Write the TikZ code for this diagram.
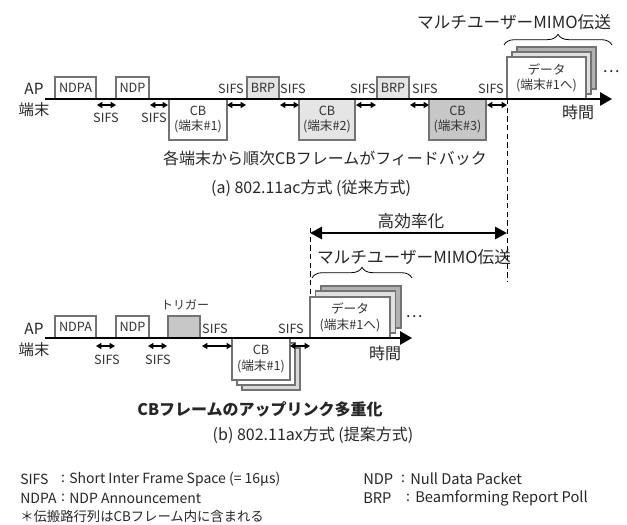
\documentclass[tikz,border=0pt]{standalone}
\usepackage{fontspec}
\setmainfont{Noto Sans CJK JP}
\usetikzlibrary{arrows.meta,decorations.pathreplacing}
\begin{document}
\begin{tikzpicture}[x=0.75pt,y=-0.75pt,
  sz/.style 2 args={minimum width=#1*0.75pt, minimum height=#2*0.75pt},
  box/.style={draw=black!55, line width=1pt, fill=white, inner sep=0pt, outer sep=0pt,
    font=\fontsize{9.5}{11.5}\selectfont, text=black!80, align=center},
  lbl/.style={font=\fontsize{9.5}{11.5}\selectfont, text=black!80, inner sep=0pt},
  mid/.style={font=\fontsize{11.5}{13}\selectfont, text=black!85, inner sep=0pt},
  big/.style={font=\fontsize{12}{14}\selectfont, text=black!85, inner sep=0pt},
  bigger/.style={font=\fontsize{12.5}{14}\selectfont, text=black!85, inner sep=0pt},
  leg/.style={font=\fontsize{10.5}{12}\selectfont, text=black!85, inner sep=0pt, anchor=west},
  legr/.style={font=\fontsize{11}{12}\selectfont, text=black!85, inner sep=0pt, anchor=west},
  colon/.style={font=\fontsize{10.5}{12}\selectfont, text=black!85, inner sep=0pt},
  sifsarr/.style={{Triangle[length=4pt,width=4.5pt]}-{Triangle[length=4pt,width=4.5pt]}, line width=0.9pt},
  timeline/.style={line width=1.4pt, -{Triangle[length=9pt,width=10pt]}},
  dashl/.style={dash pattern=on 4pt off 2.5pt, line width=0.7pt},
  brc/.style={decorate, decoration={brace, amplitude=8pt}, line width=0.6pt},
  effarr/.style={line width=2pt, {Triangle[length=9pt,width=9pt]}-{Triangle[length=9pt,width=9pt]}}
]
\useasboundingbox (0,0) rectangle (627,524);

% ================= (a) =================
\node[mid] (apA) at (34,89) {AP};
\node[mid] (staA) at (34,110) {端末};

\node[box, sz={41}{22}] (ndpaA) at (75.5,88) {NDPA};
\node[box, sz={33}{22}] (ndpA) at (132.5,88) {NDP};
\node[box, sz={58}{41}] (cb1A) at (198,119.5) {CB\\(端末\#1)};
\node[box, sz={32}{22}, fill=black!10] (brp1) at (263,88) {BRP};
\node[box, sz={56}{41}, fill=black!10] (cb2A) at (327,119.5) {CB\\(端末\#2)};
\node[box, sz={32}{22}, fill=black!10] (brp2) at (393,88) {BRP};
\node[box, sz={57}{41}, fill=black!22] (cb3A) at (457.5,119.5) {CB\\(端末\#3)};

% data stack (a)
\node[box, sz={79}{42}, fill=black!30] (datA3) at (556.5,68) {};
\node[box, sz={79}{42}, fill=black!12] (datA2) at (551.5,73) {};
\node[box, sz={79}{42}] (datA1) at (546.5,78) {データ\\(端末\#1へ)};
\node[big] (dotsA) at (611,72) {…};

% timeline (a)
\coordinate (tlAs) at (45,99);
\coordinate (tlAe) at (612,99);
\draw[timeline] (tlAs) -- (tlAe);
\node[big] (timeA) at (578,112) {時間};

% SIFS arrows (a)
\coordinate (a1s) at (97,105);  \coordinate (a1e) at (116,105);
\coordinate (a2s) at (150,105); \coordinate (a2e) at (168,105);
\coordinate (a3s) at (227,105); \coordinate (a3e) at (246,105);
\coordinate (a4s) at (280,105); \coordinate (a4e) at (299,105);
\coordinate (a5s) at (356,105); \coordinate (a5e) at (376,105);
\coordinate (a6s) at (410,105); \coordinate (a6e) at (429,105);
\coordinate (a7s) at (487,105); \coordinate (a7e) at (507,105);
\foreach \i in {1,...,7} {\draw[sifsarr] (a\i s) -- (a\i e);}

\node[lbl] (sA1) at (106,118) {SIFS};
\node[lbl] (sA2) at (154,118) {SIFS};
\node[lbl] (sA3) at (231,89) {SIFS};
\node[lbl] (sA4) at (293,89) {SIFS};
\node[lbl] (sA5) at (363,89) {SIFS};
\node[lbl] (sA6) at (425,89) {SIFS};
\node[lbl] (sA7) at (491,89) {SIFS};

% MU-MIMO brace (a)
\coordinate (brAs) at (504,45);
\coordinate (brAe) at (612,45);
\draw[brc] (brAs) -- (brAe);
\node[bigger] (mimoA) at (514,22) {マルチユーザーMIMO伝送};

\node[big] (fbA) at (325,158) {各端末から順次CBフレームがフィードバック};
\node[big] (capA) at (311,188) {(a) 802.11ac方式 (従来方式)};

% dashed line right
\coordinate (dRt) at (507,99);
\coordinate (dRb) at (507,282);
\draw[dashl] (dRt) -- (dRb);

% ================= (b) =================
\coordinate (dLt) at (310,228);
\coordinate (dLb) at (310,297);
\draw[dashl] (dLt) -- (dLb);

\coordinate (effL) at (310,233);
\coordinate (effR) at (507,233);
\draw[effarr] (effL) -- (effR);
\node[bigger] (eff) at (411,221) {高効率化};

\node[bigger] (mimoB) at (414,257) {マルチユーザーMIMO伝送};
\coordinate (brBs) at (312,278);
\coordinate (brBe) at (412,278);
\draw[brc] (brBs) -- (brBe);

\node[mid] (apB) at (34,329) {AP};
\node[mid] (staB) at (34,350) {端末};

\node[box, sz={41}{22}] (ndpaB) at (75.5,327) {NDPA};
\node[box, sz={33}{22}] (ndpB) at (132.5,327) {NDP};
\node[box, sz={32}{22}, fill=black!22] (trig) at (184,327) {};
\node[lbl, font=\fontsize{9}{11}\selectfont] (trigL) at (185,305) {トリガー};

% CB stack (b)
\node[box, sz={58}{42}, fill=black!15] (cbB3) at (271,369) {};
\node[box, sz={58}{42}] (cbB2) at (266,364) {};
\node[box, sz={58}{42}] (cbB1) at (261,359) {CB\\(端末\#1)};

% data stack (b)
\node[box, sz={80}{42}, fill=black!30] (datB3) at (361,307) {};
\node[box, sz={80}{42}, fill=black!12] (datB2) at (355.5,312) {};
\node[box, sz={80}{41}] (datB1) at (350,317.5) {データ\\(端末\#1へ)};
\node[big] (dotsB) at (414,317) {…};

\coordinate (tlBs) at (45,338);
\coordinate (tlBe) at (412,338);
\draw[timeline] (tlBs) -- (tlBe);
\node[big] (timeB) at (385,353) {時間};

\coordinate (b1s) at (96,346);  \coordinate (b1e) at (115,346);
\coordinate (b2s) at (148,346); \coordinate (b2e) at (167,346);
\coordinate (b3s) at (202,346); \coordinate (b3e) at (232,346);
\coordinate (b4s) at (290,346); \coordinate (b4e) at (310,346);
\foreach \i in {1,...,4} {\draw[sifsarr] (b\i s) -- (b\i e);}

\node[lbl] (sB1) at (107,360) {SIFS};
\node[lbl] (sB2) at (158,360) {SIFS};
\node[lbl] (sB3) at (215,329) {SIFS};
\node[lbl] (sB4) at (291,329) {SIFS};

\node[big, font=\bfseries\fontsize{12}{14}\selectfont] (mux) at (260,409) {CBフレームのアップリンク多重化};
\node[big] (capB) at (313,435) {(b) 802.11ax方式 (提案方式)};

% ================= legend =================
\node[leg] (lg1) at (20,479) {SIFS};
\node[colon] (lg1c) at (63,479) {:};
\node[leg] (lg1d) at (69,479) {Short Inter Frame Space (= 16μs)};
\node[leg] (lg2) at (20,498) {NDPA};
\node[colon] (lg2c) at (63,498) {:};
\node[leg] (lg2d) at (69,498) {NDP Announcement};
\node[leg, font=\fontsize{10}{12}\selectfont] (lg3) at (20,516) {＊伝搬路行列はCBフレーム内に含まれる};
\node[legr] (lg4) at (363,479) {NDP};
\node[colon] (lg4c) at (403,479) {:};
\node[legr] (lg4d) at (410,479) {Null Data Packet};
\node[legr] (lg5) at (363,498) {BRP};
\node[colon] (lg5c) at (408,498) {:};
\node[legr] (lg5d) at (415,498) {Beamforming Report Poll};
\end{tikzpicture}
\end{document}
